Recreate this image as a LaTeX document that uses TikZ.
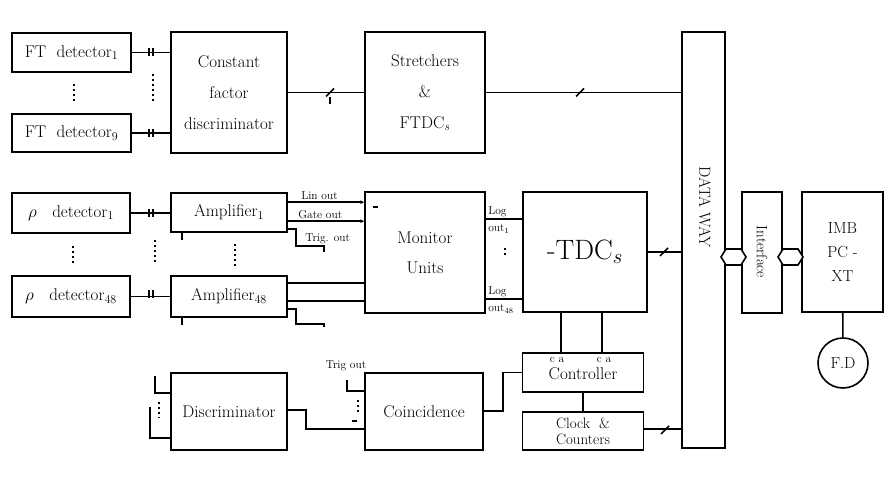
\documentclass[tikz,border=0pt]{standalone}
\usetikzlibrary{calc,arrows.meta}
\begin{document}
\begin{tikzpicture}[x=1pt,y=-1pt,line width=1.6pt,
 box/.style={draw,rectangle,inner sep=1pt,align=center,font=\fontsize{17}{31}\selectfont},
 lbl/.style={font=\fontsize{11.5}{11.5}\selectfont,inner sep=0.5pt},
 dotl/.style={line width=1.6pt,dash pattern=on 1.6pt off 3.5pt},
 sig/.style={-{Stealth[length=4pt,width=3.5pt]}},
 brk/.pic={\draw (-2,-4) -- (-2,4) (2,-4) -- (2,4);},
 bus/.pic={\draw (-4,4) -- (4,-4);}]
\useasboundingbox (0,0) rectangle (891,484);
% ---------- boxes ----------
\node[box,minimum width=119pt,minimum height=39pt] (ft1) at (71.5,52.5) {FT\ \ detector$_1$};
\node[box,minimum width=119pt,minimum height=38pt] (ft9) at (71.5,133) {FT\ \ detector$_9$};
\node[box,minimum width=116pt,minimum height=121pt] (cfd) at (229,92.5) {Constant\\factor\\discriminator};
\node[box,minimum width=120pt,minimum height=121pt] (str) at (425,92.5) {Stretchers\\\&\\FTDC$_s$};
\node[box,minimum width=43pt,minimum height=416pt] (dw) at (703.5,240) {};
\node[rotate=-90,font=\fontsize{16}{18}\selectfont] (dwt) at (705,207) {DATA WAY};
\node[box,minimum width=118pt,minimum height=40pt] (rho1) at (71,213) {$\rho$\ \ \ detector$_1$};
\node[box,minimum width=118pt,minimum height=41pt] (rho48) at (71,296.5) {$\rho$\ \ \ detector$_{48}$};
\node[box,minimum width=116pt,minimum height=39pt] (amp1) at (229,212.5) {Amplifier$_1$};
\node[box,minimum width=116pt,minimum height=41pt] (amp48) at (229,296.5) {Amplifier$_{48}$};
\node[box,minimum width=120pt,minimum height=121pt,font=\fontsize{17}{30}\selectfont] (mon) at (425,252.5) {Monitor\\Units};
\node[box,minimum width=124pt,minimum height=120pt,font=\fontsize{28}{30}\selectfont] (tdc) at (585,252) {-TDC$_s$};
\node[box,minimum width=40pt,minimum height=121pt] (ifc) at (762,252.5) {};
\node[rotate=-90,font=\fontsize{15}{17}\selectfont] (ifct) at (762,252) {Interface};
\node[box,minimum width=81pt,minimum height=120pt,font=\fontsize{16}{24}\selectfont] (pc) at (842.5,252) {IMB\\PC -\\XT};
\node[draw,circle,minimum size=50pt,inner sep=0pt,font=\fontsize{16}{18}\selectfont] (fd) at (843,363) {F.D};
\node[box,minimum width=116pt,minimum height=77pt] (disc) at (229,411.5) {Discriminator};
\node[box,minimum width=118pt,minimum height=77pt] (coin) at (424,411.5) {Coincidence};
\node[box,minimum width=121pt,minimum height=39pt] (ctrl) at (583,372.5) {\rule{0pt}{14pt}Controller};
\node[box,minimum width=121pt,minimum height=38pt,font=\fontsize{15}{16}\selectfont] (clk) at (583,431) {Clock\ \ \&\\Counters};
% ---------- upper connectors ----------
\draw (ft1.east) -- (ft1.east -| cfd.west);
\draw (ft9.east) -- (ft9.east -| cfd.west);
\pic at (151,52.5) {brk};
\pic at (151,133) {brk};
\draw[dotl] (74,84) -- (74,102);
\draw[dotl] (153,74) -- (153,102);
\draw (cfd) -- (str);
\pic at (330,92.5) {bus};
\draw (330,97) -- (330,104);
\draw (str.east) -- (str.east -| dw.west);
\pic at (580,92.5) {bus};
% ---------- middle connectors ----------
\draw (rho1.east) -- (rho1.east -| amp1.west);
\draw (rho48.east) -- (rho48.east -| amp48.west);
\pic at (151,213) {brk};
\pic at (151,294) {brk};
\draw[dotl] (73,246) -- (73,264);
\draw[dotl] (155,240) -- (155,264);
\draw[dotl] (235,244) -- (235,266);
\draw (182,232) -- (182,240);
\draw (182,317) -- (182,325);
\coordinate (lin) at ($(amp1.north east)+(0,10)$);
\coordinate (gate) at ($(amp1.north east)+(0,29)$);
\coordinate (trig) at ($(amp1.north east)+(0,37)$);
\draw[sig] (lin) -- (lin -| mon.west);
\draw[sig] (gate) -- (gate -| mon.west);
\draw (trig) -- ++(8,0) -- ++(0,17) -- ++(28,0) -- ++(0,6);
\node[lbl,anchor=south west] at (300,201) {Lin out};
\node[lbl,anchor=south west] at (297,220) {Gate out};
\node[lbl,anchor=west] at (304,239) {Trig. out};
\coordinate (a48a) at ($(amp48.north east)+(0,8)$);
\coordinate (a48b) at ($(amp48.north east)+(0,26)$);
\coordinate (a48c) at ($(amp48.north east)+(0,34)$);
\draw (a48a) -- (a48a -| mon.west);
\draw (a48b) -- (a48b -| mon.west);
\draw (a48c) -- ++(8,0) -- ++(0,15) -- ++(28,0) -- ++(0,3);
\draw (373,207) -- (378,207);
\coordinate (lg1) at ($(mon.north east)+(0,28)$);
\coordinate (lg48) at ($(mon.north east)+(0,108)$);
\draw (lg1) -- (lg1 -| tdc.west);
\draw (lg48) -- (lg48 -| tdc.west);
\node[lbl,anchor=south west] at (487,218) {Log};
\node[lbl,anchor=north west] at (487,223) {out$_1$};
\node[lbl,anchor=south west] at (487,298) {Log};
\node[lbl,anchor=north west] at (487,303) {out$_{48}$};
\draw[dotl] (505,248) -- (505,258);
\draw (tdc.east) -- (tdc.east -| dw.west);
\pic at (664,252) {bus};
% ---------- right side ----------
\draw[fill=white] (721,257) -- (726,249) -- (741,249) -- (746,257) -- (741,265) -- (726,265) -- cycle;
\draw[fill=white] (778,257) -- (783,249) -- (798,249) -- (803,257) -- (798,265) -- (783,265) -- cycle;
\draw (pc) -- (fd);
% ---------- lower connectors ----------
\coordinate (ta) at ($(tdc.south west)+(39,0)$);
\coordinate (tb) at ($(tdc.south west)+(80,0)$);
\draw (ta) -- (ta |- ctrl.north);
\draw (tb) -- (tb |- ctrl.north);
\node[lbl] at (557,360) {c a};
\node[lbl] at (604,360) {c a};
\draw (ctrl) -- (clk);
\coordinate (ck) at ($(clk.north east)+(0,18)$);
\draw (ck) -- (ck -| dw.west);
\pic at (665,430) {bus};
\coordinate (co) at ($(coin.north east)+(0,39)$);
\draw (co) -- ++(19,0) |- (ctrl.west);
\coordinate (dc) at ($(disc.north east)+(0,38)$);
\coordinate (ci) at ($(coin.north west)+(0,57)$);
\draw (dc) -- ++(18,0) |- (ci);
\draw (352,421) -- (357,421);
\coordinate (tg) at ($(coin.north west)+(0,19)$);
\coordinate (tgs) at (347,380);
\draw (tgs) |- (tg);
\node[lbl,anchor=south] at (346,372) {Trig out};
\draw[dotl] (358,400) -- (358,413);
\coordinate (dl1) at ($(disc.north west)+(0,21)$);
\coordinate (dl2) at ($(disc.north west)+(0,66)$);
\coordinate (dls1) at (155,376);
\coordinate (dls2) at (150,407);
\draw (dls1) |- (dl1);
\draw (dls2) |- (dl2);
\draw[dotl] (159,402) -- (159,418);
\end{tikzpicture}
\end{document}
